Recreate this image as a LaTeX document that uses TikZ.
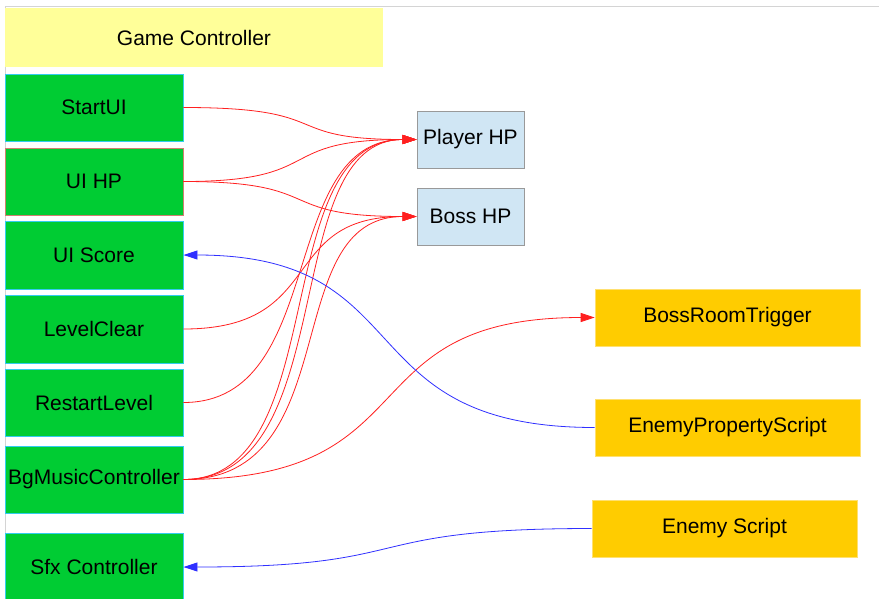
\documentclass[tikz,border=0pt]{standalone}
\usepackage{fontspec}
\setmainfont{Liberation Sans}
\usetikzlibrary{arrows.meta}
\definecolor{gcyellow}{HTML}{FFFF99}
\definecolor{boxgreen}{HTML}{00CC33}
\definecolor{greenborder}{HTML}{33CCEE}
\definecolor{salmonborder}{HTML}{D08070}
\definecolor{hpblue}{HTML}{D0E6F4}
\definecolor{hpborder}{HTML}{999999}
\definecolor{scriptorange}{HTML}{FFCC00}
\definecolor{orangeborder}{HTML}{FFE070}
\definecolor{edgered}{HTML}{FF2020}
\definecolor{edgeblue}{HTML}{3030FF}
\definecolor{framegray}{HTML}{D4D4D4}
\begin{document}
\begin{tikzpicture}[x=1pt,y=-1pt,
  every node/.style={font=\fontsize{21}{24}\selectfont, text=black, inner sep=0pt},
  gcbox/.style={fill=gcyellow, draw=none, minimum width=378pt, minimum height=59pt},
  greenbox/.style={fill=boxgreen, draw=greenborder, line width=0.9pt, minimum width=178pt, minimum height=67pt},
  hpbox/.style={fill=hpblue, draw=hpborder, line width=0.9pt, minimum width=107pt, minimum height=57pt},
  scriptbox/.style={fill=scriptorange, draw=orangeborder, line width=0.6pt, minimum width=265pt, minimum height=57pt},
  redarrow/.style={draw=edgered, line width=0.8pt, -{Triangle[length=14pt,width=9pt]}},
  bluearrow/.style={draw=edgeblue, line width=0.8pt, -{Triangle[length=14pt,width=9pt]}}
]
\useasboundingbox (0,0) rectangle (879,598);
\fill[white] (0,0) rectangle (879,598);
% frame lines
\draw[framegray, line width=1pt] (5,6) -- (879,6);
\draw[framegray, line width=1pt] (5,6) -- (5,598);

% nodes
\node[gcbox] (gc) at (194,37.5) {Game Controller};
\node[greenbox] (startui) at (94,107.5) {StartUI};
\node[greenbox, draw=salmonborder] (uihp) at (94,181.5) {UI HP};
\node[greenbox, minimum height=68pt] (uiscore) at (94,255) {UI Score};
\node[greenbox, minimum height=68pt] (levelclear) at (94,329) {LevelClear};
\node[greenbox] (restart) at (94,402.5) {RestartLevel};
\node[greenbox] (bgmusic) at (94,479.5) {BgMusicController};
\node[greenbox, minimum height=68pt] (sfx) at (94,567) {Sfx Controller};

\node[hpbox] (playerhp) at (470.5,139.5) {Player HP};
\node[hpbox] (bosshp) at (470.5,216.5) {Boss HP};

\node[scriptbox] (bossroom) at (727.5,317.5) {BossRoomTrigger};
\node[scriptbox] (enemyprop) at (727.5,427.5) {EnemyPropertyScript};
\node[scriptbox] (enemyscript) at (724.5,528.5) {Enemy Script};

% red connectors
\draw[redarrow] (startui.east) .. controls +(155,0) and +(-140,0) .. (playerhp.west);
\draw[redarrow] (uihp.east) .. controls +(145,0) and +(-145,0) .. (playerhp.west);
\draw[redarrow] (uihp.east) .. controls +(145,0) and +(-145,0) .. (bosshp.west);
\draw[redarrow] (levelclear.east) .. controls +(145,0) and +(-140,0) .. (bosshp.west);
\draw[redarrow] (restart.east) .. controls +(145,0) and +(-140,0) .. (playerhp.west);
\draw[redarrow] (bgmusic.east) .. controls +(150,0) and +(-150,0) .. (playerhp.west);
\draw[redarrow] (bgmusic.east) .. controls +(160,0) and +(-140,0) .. (playerhp.west);
\draw[redarrow] (bgmusic.east) .. controls +(165,0) and +(-140,0) .. (bosshp.west);
\draw[redarrow] (bgmusic.east) .. controls +(250,0) and +(-250,0) .. (bossroom.west);

% blue connectors
\draw[bluearrow] (enemyprop.west) .. controls +(-250,0) and +(240,0) .. (uiscore.east);
\draw[bluearrow] (enemyscript.west) .. controls +(-240,0) and +(240,0) .. (sfx.east);
\end{tikzpicture}
\end{document}
